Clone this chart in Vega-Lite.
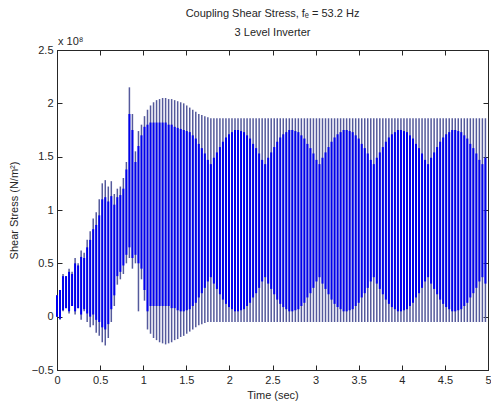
{
  "$schema": "https://vega.github.io/schema/vega-lite/v6.json",
  "width": 431,
  "height": 320,
  "autosize": {"type": "none"},
  "padding": {"left": 57, "top": 50, "right": 3, "bottom": 41},
  "title": {
    "text": ["Coupling Shear Stress, fₑ = 53.2 Hz", "3 Level Inverter"],
    "font": "Liberation Sans",
    "fontSize": 11,
    "fontWeight": "normal",
    "color": "#262626",
    "lineHeight": 19,
    "offset": -2,
    "anchor": "middle",
    "frame": "group"
  },
  "data": {
    "values": [
      {"t": 0, "lo": 0.00, "hi": 0.20, "bl": 0.00, "bh": 0.20},
      {"t": 0.035, "lo": -0.03, "hi": 0.25, "bl": -0.02, "bh": 0.25},
      {"t": 0.07, "lo": 0.05, "hi": 0.40, "bl": 0.06, "bh": 0.38},
      {"t": 0.105, "lo": 0.08, "hi": 0.38, "bl": 0.08, "bh": 0.38},
      {"t": 0.14, "lo": 0.03, "hi": 0.45, "bl": 0.05, "bh": 0.42},
      {"t": 0.175, "lo": 0.10, "hi": 0.42, "bl": 0.10, "bh": 0.40},
      {"t": 0.21, "lo": 0.02, "hi": 0.55, "bl": 0.05, "bh": 0.50},
      {"t": 0.245, "lo": 0.08, "hi": 0.50, "bl": 0.08, "bh": 0.48},
      {"t": 0.28, "lo": -0.03, "hi": 0.62, "bl": 0.02, "bh": 0.56},
      {"t": 0.315, "lo": 0.05, "hi": 0.60, "bl": 0.07, "bh": 0.55},
      {"t": 0.35, "lo": -0.05, "hi": 0.72, "bl": 0.03, "bh": 0.65},
      {"t": 0.385, "lo": -0.10, "hi": 0.80, "bl": 0.00, "bh": 0.72},
      {"t": 0.42, "lo": -0.08, "hi": 0.92, "bl": 0.02, "bh": 0.82},
      {"t": 0.455, "lo": -0.15, "hi": 0.98, "bl": -0.03, "bh": 0.86},
      {"t": 0.49, "lo": -0.18, "hi": 1.10, "bl": -0.05, "bh": 0.95},
      {"t": 0.525, "lo": -0.24, "hi": 1.25, "bl": -0.10, "bh": 1.10},
      {"t": 0.56, "lo": -0.27, "hi": 1.28, "bl": -0.12, "bh": 1.12},
      {"t": 0.595, "lo": -0.20, "hi": 1.22, "bl": -0.07, "bh": 1.08},
      {"t": 0.63, "lo": -0.05, "hi": 1.27, "bl": 0.07, "bh": 1.13},
      {"t": 0.665, "lo": 0.10, "hi": 1.15, "bl": 0.20, "bh": 1.05},
      {"t": 0.70, "lo": 0.30, "hi": 1.20, "bl": 0.38, "bh": 1.12},
      {"t": 0.735, "lo": 0.35, "hi": 1.22, "bl": 0.42, "bh": 1.14},
      {"t": 0.77, "lo": 0.40, "hi": 1.30, "bl": 0.48, "bh": 1.20},
      {"t": 0.805, "lo": 0.50, "hi": 1.45, "bl": 0.58, "bh": 1.38},
      {"t": 0.84, "lo": 0.55, "hi": 2.15, "bl": 0.65, "bh": 1.90},
      {"t": 0.875, "lo": 0.45, "hi": 1.90, "bl": 0.55, "bh": 1.75},
      {"t": 0.91, "lo": 0.50, "hi": 1.55, "bl": 0.58, "bh": 1.45},
      {"t": 0.945, "lo": 0.05, "hi": 1.74, "bl": 0.50, "bh": 1.60},
      {"t": 0.98, "lo": 0.35, "hi": 1.80, "bl": 0.45, "bh": 1.70},
      {"t": 1.015, "lo": 0.15, "hi": 1.88, "bl": 0.25, "bh": 1.78},
      {"t": 1.05, "lo": -0.12, "hi": 1.94, "bl": 0.05, "bh": 1.80},
      {"t": 1.085, "lo": -0.16, "hi": 1.98, "bl": 0.10, "bh": 1.82},
      {"t": 1.12, "lo": -0.20, "hi": 2.01, "bl": 0.10, "bh": 1.82},
      {"t": 1.155, "lo": -0.22, "hi": 2.03, "bl": 0.10, "bh": 1.82},
      {"t": 1.19, "lo": -0.24, "hi": 2.04, "bl": 0.10, "bh": 1.82},
      {"t": 1.225, "lo": -0.25, "hi": 2.05, "bl": 0.10, "bh": 1.82},
      {"t": 1.26, "lo": -0.26, "hi": 2.05, "bl": 0.10, "bh": 1.82},
      {"t": 1.295, "lo": -0.25, "hi": 2.04, "bl": 0.10, "bh": 1.80},
      {"t": 1.33, "lo": -0.24, "hi": 2.04, "bl": 0.08, "bh": 1.80},
      {"t": 1.365, "lo": -0.22, "hi": 2.03, "bl": 0.08, "bh": 1.78},
      {"t": 1.40, "lo": -0.21, "hi": 2.02, "bl": 0.06, "bh": 1.77},
      {"t": 1.435, "lo": -0.19, "hi": 2.01, "bl": 0.05, "bh": 1.76},
      {"t": 1.47, "lo": -0.18, "hi": 2.00, "bl": 0.05, "bh": 1.75},
      {"t": 1.505, "lo": -0.16, "hi": 1.98, "bl": 0.06, "bh": 1.74},
      {"t": 1.54, "lo": -0.14, "hi": 1.96, "bl": 0.07, "bh": 1.73},
      {"t": 1.575, "lo": -0.12, "hi": 1.94, "bl": 0.10, "bh": 1.70},
      {"t": 1.61, "lo": -0.10, "hi": 1.92, "bl": 0.13, "bh": 1.67},
      {"t": 1.645, "lo": -0.08, "hi": 1.90, "bl": 0.18, "bh": 1.62},
      {"t": 1.68, "lo": -0.07, "hi": 1.89, "bl": 0.22, "bh": 1.58},
      {"t": 1.715, "lo": -0.06, "hi": 1.88, "bl": 0.27, "bh": 1.53},
      {"t": 1.75, "lo": -0.05, "hi": 1.87, "bl": 0.33, "bh": 1.47},
      {"t": 1.785, "lo": -0.05, "hi": 1.86, "bl": 0.37, "bh": 1.43},
      {"t": 1.82, "lo": -0.05, "hi": 1.86, "bl": 0.31, "bh": 1.49},
      {"t": 1.855, "lo": -0.05, "hi": 1.86, "bl": 0.26, "bh": 1.54},
      {"t": 1.89, "lo": -0.05, "hi": 1.86, "bl": 0.21, "bh": 1.59},
      {"t": 1.925, "lo": -0.05, "hi": 1.86, "bl": 0.16, "bh": 1.64},
      {"t": 1.96, "lo": -0.05, "hi": 1.86, "bl": 0.12, "bh": 1.68},
      {"t": 1.995, "lo": -0.05, "hi": 1.86, "bl": 0.09, "bh": 1.71},
      {"t": 2.03, "lo": -0.05, "hi": 1.86, "bl": 0.07, "bh": 1.73},
      {"t": 2.065, "lo": -0.05, "hi": 1.86, "bl": 0.05, "bh": 1.75},
      {"t": 2.1, "lo": -0.05, "hi": 1.86, "bl": 0.05, "bh": 1.75},
      {"t": 2.135, "lo": -0.05, "hi": 1.86, "bl": 0.06, "bh": 1.74},
      {"t": 2.17, "lo": -0.05, "hi": 1.86, "bl": 0.07, "bh": 1.73},
      {"t": 2.205, "lo": -0.05, "hi": 1.86, "bl": 0.10, "bh": 1.70},
      {"t": 2.24, "lo": -0.05, "hi": 1.86, "bl": 0.13, "bh": 1.67},
      {"t": 2.275, "lo": -0.05, "hi": 1.86, "bl": 0.18, "bh": 1.62},
      {"t": 2.31, "lo": -0.05, "hi": 1.86, "bl": 0.22, "bh": 1.58},
      {"t": 2.345, "lo": -0.05, "hi": 1.86, "bl": 0.27, "bh": 1.53},
      {"t": 2.38, "lo": -0.05, "hi": 1.86, "bl": 0.33, "bh": 1.47},
      {"t": 2.415, "lo": -0.05, "hi": 1.86, "bl": 0.37, "bh": 1.43},
      {"t": 2.45, "lo": -0.05, "hi": 1.86, "bl": 0.31, "bh": 1.49},
      {"t": 2.485, "lo": -0.05, "hi": 1.86, "bl": 0.26, "bh": 1.54},
      {"t": 2.52, "lo": -0.05, "hi": 1.86, "bl": 0.21, "bh": 1.59},
      {"t": 2.555, "lo": -0.05, "hi": 1.86, "bl": 0.16, "bh": 1.64},
      {"t": 2.59, "lo": -0.05, "hi": 1.86, "bl": 0.12, "bh": 1.68},
      {"t": 2.625, "lo": -0.05, "hi": 1.86, "bl": 0.09, "bh": 1.71},
      {"t": 2.66, "lo": -0.05, "hi": 1.86, "bl": 0.07, "bh": 1.73},
      {"t": 2.695, "lo": -0.05, "hi": 1.86, "bl": 0.05, "bh": 1.75},
      {"t": 2.73, "lo": -0.05, "hi": 1.86, "bl": 0.05, "bh": 1.75},
      {"t": 2.765, "lo": -0.05, "hi": 1.86, "bl": 0.06, "bh": 1.74},
      {"t": 2.8, "lo": -0.05, "hi": 1.86, "bl": 0.07, "bh": 1.73},
      {"t": 2.835, "lo": -0.05, "hi": 1.86, "bl": 0.10, "bh": 1.70},
      {"t": 2.87, "lo": -0.05, "hi": 1.86, "bl": 0.13, "bh": 1.67},
      {"t": 2.905, "lo": -0.05, "hi": 1.86, "bl": 0.18, "bh": 1.62},
      {"t": 2.94, "lo": -0.05, "hi": 1.86, "bl": 0.22, "bh": 1.58},
      {"t": 2.975, "lo": -0.05, "hi": 1.86, "bl": 0.27, "bh": 1.53},
      {"t": 3.01, "lo": -0.05, "hi": 1.86, "bl": 0.33, "bh": 1.47},
      {"t": 3.045, "lo": -0.05, "hi": 1.86, "bl": 0.37, "bh": 1.43},
      {"t": 3.08, "lo": -0.05, "hi": 1.86, "bl": 0.31, "bh": 1.49},
      {"t": 3.115, "lo": -0.05, "hi": 1.86, "bl": 0.26, "bh": 1.54},
      {"t": 3.15, "lo": -0.05, "hi": 1.86, "bl": 0.21, "bh": 1.59},
      {"t": 3.185, "lo": -0.05, "hi": 1.86, "bl": 0.16, "bh": 1.64},
      {"t": 3.22, "lo": -0.05, "hi": 1.86, "bl": 0.12, "bh": 1.68},
      {"t": 3.255, "lo": -0.05, "hi": 1.86, "bl": 0.09, "bh": 1.71},
      {"t": 3.29, "lo": -0.05, "hi": 1.86, "bl": 0.07, "bh": 1.73},
      {"t": 3.325, "lo": -0.05, "hi": 1.86, "bl": 0.05, "bh": 1.75},
      {"t": 3.36, "lo": -0.05, "hi": 1.86, "bl": 0.05, "bh": 1.75},
      {"t": 3.395, "lo": -0.05, "hi": 1.86, "bl": 0.06, "bh": 1.74},
      {"t": 3.43, "lo": -0.05, "hi": 1.86, "bl": 0.07, "bh": 1.73},
      {"t": 3.465, "lo": -0.05, "hi": 1.86, "bl": 0.10, "bh": 1.70},
      {"t": 3.5, "lo": -0.05, "hi": 1.86, "bl": 0.13, "bh": 1.67},
      {"t": 3.535, "lo": -0.05, "hi": 1.86, "bl": 0.18, "bh": 1.62},
      {"t": 3.57, "lo": -0.05, "hi": 1.86, "bl": 0.22, "bh": 1.58},
      {"t": 3.605, "lo": -0.05, "hi": 1.86, "bl": 0.27, "bh": 1.53},
      {"t": 3.64, "lo": -0.05, "hi": 1.86, "bl": 0.33, "bh": 1.47},
      {"t": 3.675, "lo": -0.05, "hi": 1.86, "bl": 0.37, "bh": 1.43},
      {"t": 3.71, "lo": -0.05, "hi": 1.86, "bl": 0.31, "bh": 1.49},
      {"t": 3.745, "lo": -0.05, "hi": 1.86, "bl": 0.26, "bh": 1.54},
      {"t": 3.78, "lo": -0.05, "hi": 1.86, "bl": 0.21, "bh": 1.59},
      {"t": 3.815, "lo": -0.05, "hi": 1.86, "bl": 0.16, "bh": 1.64},
      {"t": 3.85, "lo": -0.05, "hi": 1.86, "bl": 0.12, "bh": 1.68},
      {"t": 3.885, "lo": -0.05, "hi": 1.86, "bl": 0.09, "bh": 1.71},
      {"t": 3.92, "lo": -0.05, "hi": 1.86, "bl": 0.07, "bh": 1.73},
      {"t": 3.955, "lo": -0.05, "hi": 1.86, "bl": 0.05, "bh": 1.75},
      {"t": 3.99, "lo": -0.05, "hi": 1.86, "bl": 0.05, "bh": 1.75},
      {"t": 4.025, "lo": -0.05, "hi": 1.86, "bl": 0.06, "bh": 1.74},
      {"t": 4.06, "lo": -0.05, "hi": 1.86, "bl": 0.07, "bh": 1.73},
      {"t": 4.095, "lo": -0.05, "hi": 1.86, "bl": 0.10, "bh": 1.70},
      {"t": 4.13, "lo": -0.05, "hi": 1.86, "bl": 0.13, "bh": 1.67},
      {"t": 4.165, "lo": -0.05, "hi": 1.86, "bl": 0.18, "bh": 1.62},
      {"t": 4.2, "lo": -0.05, "hi": 1.86, "bl": 0.22, "bh": 1.58},
      {"t": 4.235, "lo": -0.05, "hi": 1.86, "bl": 0.27, "bh": 1.53},
      {"t": 4.27, "lo": -0.05, "hi": 1.86, "bl": 0.33, "bh": 1.47},
      {"t": 4.305, "lo": -0.05, "hi": 1.86, "bl": 0.37, "bh": 1.43},
      {"t": 4.34, "lo": -0.05, "hi": 1.86, "bl": 0.31, "bh": 1.49},
      {"t": 4.375, "lo": -0.05, "hi": 1.86, "bl": 0.26, "bh": 1.54},
      {"t": 4.41, "lo": -0.05, "hi": 1.86, "bl": 0.21, "bh": 1.59},
      {"t": 4.445, "lo": -0.05, "hi": 1.86, "bl": 0.16, "bh": 1.64},
      {"t": 4.48, "lo": -0.05, "hi": 1.86, "bl": 0.12, "bh": 1.68},
      {"t": 4.515, "lo": -0.05, "hi": 1.86, "bl": 0.09, "bh": 1.71},
      {"t": 4.55, "lo": -0.05, "hi": 1.86, "bl": 0.07, "bh": 1.73},
      {"t": 4.585, "lo": -0.05, "hi": 1.86, "bl": 0.05, "bh": 1.75},
      {"t": 4.62, "lo": -0.05, "hi": 1.86, "bl": 0.05, "bh": 1.75},
      {"t": 4.655, "lo": -0.05, "hi": 1.86, "bl": 0.06, "bh": 1.74},
      {"t": 4.69, "lo": -0.05, "hi": 1.86, "bl": 0.07, "bh": 1.73},
      {"t": 4.725, "lo": -0.05, "hi": 1.86, "bl": 0.10, "bh": 1.70},
      {"t": 4.76, "lo": -0.05, "hi": 1.86, "bl": 0.13, "bh": 1.67},
      {"t": 4.795, "lo": -0.05, "hi": 1.86, "bl": 0.18, "bh": 1.62},
      {"t": 4.83, "lo": -0.05, "hi": 1.86, "bl": 0.22, "bh": 1.58},
      {"t": 4.865, "lo": -0.05, "hi": 1.86, "bl": 0.27, "bh": 1.53},
      {"t": 4.9, "lo": -0.05, "hi": 1.86, "bl": 0.33, "bh": 1.47},
      {"t": 4.935, "lo": -0.05, "hi": 1.86, "bl": 0.37, "bh": 1.43},
      {"t": 4.97, "lo": -0.05, "hi": 1.86, "bl": 0.31, "bh": 1.49}
    ]
  },
  "layer": [
    {
      "mark": {"type": "rule", "color": "#555a9c", "strokeWidth": 1.5},
      "encoding": {
        "x": {
          "field": "t",
          "type": "quantitative",
          "scale": {"domain": [0, 5], "nice": false, "zero": false},
          "axis": {"orient": "bottom", "title": "Time (sec)", "values": [0, 0.5, 1, 1.5, 2, 2.5, 3, 3.5, 4, 4.5, 5], "format": "~g", "labelOverlap": false}
        },
        "y": {
          "field": "lo",
          "type": "quantitative",
          "scale": {"domain": [-0.5, 2.5], "nice": false, "zero": false},
          "axis": {"orient": "left", "title": "Shear Stress (N/m²)", "values": [-0.5, 0, 0.5, 1, 1.5, 2, 2.5], "format": "~g", "labelOverlap": false}
        },
        "y2": {"field": "hi"}
      }
    },
    {
      "mark": {"type": "rule", "color": "#0000ee", "strokeWidth": 2},
      "encoding": {
        "x": {
          "field": "t",
          "type": "quantitative",
          "axis": {"orient": "top", "labels": false, "title": null, "values": [0, 0.5, 1, 1.5, 2, 2.5, 3, 3.5, 4, 4.5, 5]}
        },
        "y": {
          "field": "bl",
          "type": "quantitative",
          "axis": {"orient": "right", "labels": false, "title": null, "values": [-0.5, 0, 0.5, 1, 1.5, 2, 2.5]}
        },
        "y2": {"field": "bh"}
      }
    },
    {
      "data": {"values": [{"note": "exponent"}]},
      "mark": {"type": "text", "align": "left", "baseline": "alphabetic", "dx": 1, "dy": -5, "font": "Liberation Sans", "fontSize": 11, "color": "#262626"},
      "encoding": {
        "x": {"datum": 0, "type": "quantitative", "axis": null},
        "y": {"datum": 2.5, "type": "quantitative", "axis": null},
        "text": {"value": "x 10⁸"}
      }
    }
  ],
  "resolve": {"axis": {"x": "independent", "y": "independent"}},
  "config": {
    "view": {"stroke": "#262626", "strokeWidth": 1},
    "axis": {
      "grid": false,
      "domainColor": "#262626",
      "tickColor": "#262626",
      "labelColor": "#262626",
      "titleColor": "#262626",
      "labelFont": "Liberation Sans",
      "titleFont": "Liberation Sans",
      "labelFontSize": 11,
      "titleFontSize": 11,
      "titleFontWeight": "normal",
      "tickSize": -5,
      "labelPadding": 9,
      "labelFlush": false,
      "labelOverlap": false
    },
    "axisX": {"titlePadding": 4},
    "axisY": {"titlePadding": 12}
  }
}
